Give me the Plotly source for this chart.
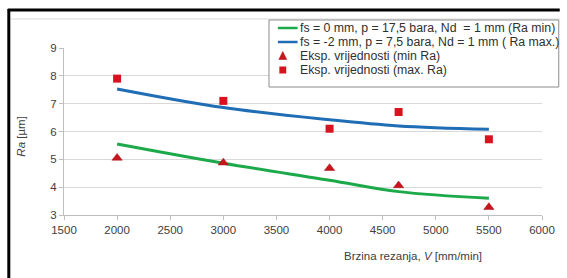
import plotly.graph_objects as go

# Data
speeds = [2000, 3000, 4000, 4650, 5500]
model_min = [5.55, 4.86, 4.25, 3.84, 3.6]
model_max = [7.53, 6.86, 6.42, 6.2, 6.08]
exp_min = [5.05, 4.88, 4.68, 4.06, 3.28]
exp_max = [7.9, 7.1, 6.1, 6.7, 5.72]

x_ticks = [1500, 2000, 2500, 3000, 3500, 4000, 4500, 5000, 5500, 6000]
y_ticks = [3, 4, 5, 6, 7, 8, 9]

names = [
    "fs = 0 mm, p = 17,5 bara, Nd  = 1 mm (Ra min)",
    "fs = -2 mm, p = 7,5 bara, Nd = 1 mm ( Ra max.)",
    "Eksp. vrijednosti (min Ra)",
    "Eksp. vrijednosti (max. Ra)",
]

GREEN = "#1ca94a"
BLUE = "#1f6db4"
RED_T = "#c8141c"
RED_S = "#d8121e"

W, H = 567, 278
L, R, T, B = 64, 18, 48, 63
pw, ph = W - L - R, H - T - B

def px(x):
    return (x - L) / pw

def py(y):
    return 1 - (y - T) / ph

fig = go.Figure()
fig.add_trace(go.Scatter(x=speeds, y=model_min, mode="lines", name=names[0],
                         showlegend=False,
                         line=dict(color=GREEN, width=3, shape="spline")))
fig.add_trace(go.Scatter(x=speeds, y=model_max, mode="lines", name=names[1],
                         showlegend=False,
                         line=dict(color=BLUE, width=3, shape="spline")))
fig.add_trace(go.Scatter(x=speeds, y=exp_min, mode="markers", name=names[2],
                         showlegend=False,
                         marker=dict(symbol="triangle-up", size=9, color=RED_T,
                                     line=dict(color="#a00f14", width=0.5))))
fig.add_trace(go.Scatter(x=speeds, y=exp_max, mode="markers", name=names[3],
                         showlegend=False,
                         marker=dict(symbol="square", size=8, color=RED_S,
                                     line=dict(width=0))))

font_family = "Liberation Sans, Arial, sans-serif"

fig.update_layout(
    width=W, height=H,
    margin=dict(l=L, r=R, t=T, b=B),
    paper_bgcolor="white", plot_bgcolor="white",
    font=dict(family=font_family, size=11, color="#404040"),
    showlegend=False,
    xaxis=dict(
        range=[1500, 6000], tickvals=x_ticks, ticktext=[str(v) for v in x_ticks],
        showgrid=False, zeroline=False,
        showline=True, linecolor="#bfbfbf", linewidth=1,
        ticks="outside", ticklen=4, tickcolor="#bfbfbf",
        tickfont=dict(size=11.5, color="#404040"),
    ),
    yaxis=dict(
        range=[3, 9], tickvals=y_ticks, ticktext=[str(v) for v in y_ticks],
        showgrid=True, gridcolor="#d9d9d9", gridwidth=1, zeroline=False,
        showline=True, linecolor="#bfbfbf", linewidth=1,
        ticks="outside", ticklen=4, tickcolor="#bfbfbf",
        tickfont=dict(size=11.5, color="#404040"),
    ),
)

fig.add_annotation(text="Brzina rezanja, <i>V</i> [mm/min]", xref="paper", yref="paper",
                   x=px(418), y=py(256), xanchor="center", yanchor="middle",
                   showarrow=False, font=dict(size=11.5, color="#404040"))
fig.add_annotation(text="<i>Ra</i> [µm]", xref="paper", yref="paper",
                   x=px(20), y=py(136), xanchor="center", yanchor="middle",
                   showarrow=False, textangle=-90,
                   font=dict(size=11.5, color="#404040"))

# frame lines
fig.add_shape(type="line", xref="paper", yref="paper",
              x0=px(7), x1=px(567), y0=py(10), y1=py(10),
              line=dict(color="black", width=3))
fig.add_shape(type="line", xref="paper", yref="paper",
              x0=px(8), x1=px(8), y0=py(9), y1=py(278),
              line=dict(color="black", width=3))
fig.add_shape(type="line", xref="paper", yref="paper",
              x0=px(10), x1=px(567), y0=py(19), y1=py(19),
              line=dict(color="#d9d9d9", width=1))

# legend box (compact, Excel-like)
fig.add_shape(type="rect", xref="paper", yref="paper", layer="above",
              x0=px(272), x1=px(566), y0=py(20), y1=py(87),
              fillcolor="white", line=dict(color="#8c8c8c", width=1))
rows = [28, 42, 56, 70]
for ry, col in zip(rows[:2], [GREEN, BLUE]):
    fig.add_shape(type="line", xref="paper", yref="paper", layer="above",
                  x0=px(281), x1=px(301), y0=py(ry), y1=py(ry),
                  line=dict(color=col, width=2.5))
cx = 286
tri = "M {},{} L {},{} L {},{} Z".format(px(cx), py(rows[2] - 4.5), px(cx - 4), py(rows[2] + 3.5),
                                         px(cx + 4), py(rows[2] + 3.5))
fig.add_shape(type="path", xref="paper", yref="paper", layer="above", path=tri,
              fillcolor=RED_T, line=dict(color="#a00f14", width=0.5))
fig.add_shape(type="rect", xref="paper", yref="paper", layer="above",
              x0=px(cx - 3.5), x1=px(cx + 3.5), y0=py(rows[3] - 3.5), y1=py(rows[3] + 3.5),
              fillcolor=RED_S, line=dict(width=0))
for ry, nm in zip(rows, names):
    fig.add_annotation(text=nm, xref="paper", yref="paper", x=px(301), y=py(ry),
                       xanchor="left", yanchor="middle", showarrow=False,
                       font=dict(size=12.3, color="#303030"))

fig.write_html("out.html", config={"displayModeBar": False},
               post_script="document.body.style.margin='0';document.body.style.overflow='hidden';")
